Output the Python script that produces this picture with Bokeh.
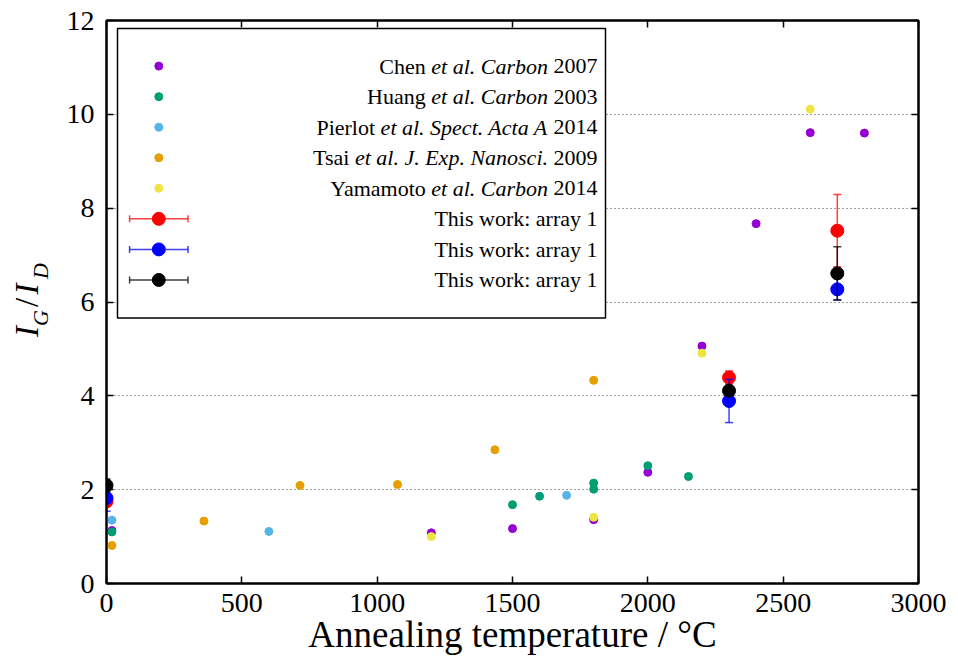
import math
from bokeh.plotting import figure
from bokeh.layouts import row
from bokeh.models import ColumnDataSource, LinearAxis, SingleIntervalTicker, Range1d
from bokeh.core.properties import value
from bokeh.embed import file_html
from bokeh.resources import INLINE

# ---- literature data: annealing temperature (°C) vs I_G/I_D ----
chen_T = [20, 1200, 1500, 1800, 2000, 2200, 2400, 2600, 2800]
chen_R = [1.13, 1.08, 1.17, 1.36, 2.37, 5.06, 7.67, 9.61, 9.60]
huang_T = [20, 1500, 1600, 1800, 1800, 2000, 2150]
huang_R = [1.10, 1.68, 1.86, 2.01, 2.14, 2.51, 2.28]
pierlot_T = [20, 600, 1700]
pierlot_R = [1.35, 1.11, 1.88]
tsai_T = [20, 360, 715, 1075, 1435, 1800]
tsai_R = [0.81, 1.33, 2.09, 2.11, 2.85, 4.33]
yama_T = [1200, 1800, 2200, 2600]
yama_R = [1.00, 1.41, 4.91, 10.11]

# ---- this work: mean ratio and error ----
work_T = [0, 2300, 2700]
red_R = [1.75, 4.39, 7.52]
red_E = [0.10, 0.14, 0.77]
blue_R = [1.82, 3.89, 6.27]
blue_E = [0.28, 0.46, 0.23]
black_R = [2.09, 4.11, 6.61]
black_E = [0.14, 0.10, 0.57]

x_ticks_step = 500
y_ticks_step = 2
x_title = "Annealing temperature / °C"

lit_series = [
    ("#9400d3", chen_T, chen_R, [("r", "Chen"), ("i", "et al. Carbon"), ("r", "2007")]),
    ("#009e73", huang_T, huang_R, [("r", "Huang"), ("i", "et al. Carbon"), ("r", "2003")]),
    ("#56b4e9", pierlot_T, pierlot_R, [("r", "Pierlot"), ("i", "et al. Spect. Acta A"), ("r", "2014")]),
    ("#e69f00", tsai_T, tsai_R, [("r", "Tsai"), ("i", "et al. J. Exp. Nanosci."), ("r", "2009")]),
    ("#f0e442", yama_T, yama_R, [("r", "Yamamoto"), ("i", "et al. Carbon"), ("r", "2014")]),
]
work_series = [
    ("#ff0000", red_R, red_E, "This work: array 1"),
    ("#0000ff", blue_R, blue_E, "This work: array 1"),
    ("#000000", black_R, black_E, "This work: array 1"),
]

# ---- canvas geometry ----
W, H = 958, 657
LW = 62                       # strip on the left holding the y title
BL, BR, BT, BB = 106, 40, 20, 73
FW, FH = W - BL - BR, H - BT - BB
X0, X1, Y0, Y1 = 0, 3000, 0, 12
SERIF = "Liberation Serif"


def dx(px):
    return X0 + (px - BL) * (X1 - X0) / FW


def dy(py):
    return Y0 + (BT + FH - py) * (Y1 - Y0) / FH


# Times-compatible advance widths (1/1000 em) for legend text layout
ROMAN = dict(zip(" .:0123456789", [250, 250, 278] + [500] * 10))
ROMAN.update(dict(a=444, b=500, c=444, d=500, e=444, f=333, g=500, h=500, i=278, j=278,
                  k=500, l=278, m=778, n=500, o=500, p=500, q=500, r=333, s=389, t=278,
                  u=500, v=500, w=722, x=500, y=500, z=444, A=722, C=667, H=722, P=556,
                  T=611, Y=722))
ITALIC = {" ": 250, ".": 250}
ITALIC.update(dict(a=500, b=500, c=444, d=500, e=444, i=278, l=278, n=500, o=500, p=500,
                   r=389, s=389, t=278, x=444, A=611, C=667, E=611, J=444, N=667, S=500))


def text_width(s, table, size):
    return sum(table.get(ch, 500) for ch in s) * size / 1000.0


p = figure(width=W - LW, height=H, x_range=Range1d(X0, X1), y_range=Range1d(Y0, Y1),
           output_backend="svg", toolbar_location=None,
           min_border_left=BL - LW, min_border_right=BR, min_border_top=BT, min_border_bottom=BB)
p.background_fill_color = "white"
p.border_fill_color = "white"
p.outline_line_color = "black"
p.outline_line_width = 2

# axes
for ax, step in ((p.xaxis[0], x_ticks_step), (p.yaxis[0], y_ticks_step)):
    ax.ticker = SingleIntervalTicker(interval=step, num_minor_ticks=0)
    ax.major_tick_in = 7
    ax.major_tick_out = 0
    ax.minor_tick_in = 0
    ax.minor_tick_out = 0
    ax.axis_line_width = 2
    ax.major_tick_line_width = 1.5
    ax.major_label_text_font = SERIF
    ax.major_label_text_font_size = "28px"
    ax.major_label_text_color = "black"
p.xaxis.major_label_standoff = 10
p.yaxis.major_label_standoff = 12
p.xaxis.axis_label = x_title
p.xaxis.axis_label_text_font = SERIF
p.xaxis.axis_label_text_font_size = "37px"
p.xaxis.axis_label_text_font_style = "normal"
p.xaxis.axis_label_text_color = "black"
p.xaxis.axis_label_standoff = -1

for side, step in (("above", x_ticks_step), ("right", y_ticks_step)):
    extra = LinearAxis(ticker=SingleIntervalTicker(interval=step, num_minor_ticks=0),
                       major_tick_in=7, major_tick_out=0, minor_tick_in=0, minor_tick_out=0,
                       axis_line_width=2, major_tick_line_width=1.5,
                       major_label_text_color=None, major_label_text_font_size="1px",
                       major_label_standoff=0)
    p.add_layout(extra, side)

p.xgrid.visible = False
p.ygrid.ticker = SingleIntervalTicker(interval=y_ticks_step, num_minor_ticks=0)
p.ygrid.grid_line_color = "#444444"
p.ygrid.grid_line_dash = "1 3"
p.ygrid.grid_line_width = 1

# ---- literature points ----
SMALL, LARGE = 8, 13
for color, T, R, _ in lit_series:
    p.scatter(T, R, size=SMALL, fill_color=color, line_color=color)

# ---- this work: error bars then markers ----
cap = 4 * (X1 - X0) / FW
for color, R, E, _ in work_series:
    lo = [r - e for r, e in zip(R, E)]
    hi = [r + e for r, e in zip(R, E)]
    p.segment(work_T, lo, work_T, hi, line_color=color, line_width=1.5, line_alpha=0.75)
    p.segment([t - cap for t in work_T], lo, [t + cap for t in work_T], lo,
              line_color=color, line_width=1.5, line_alpha=0.75)
    p.segment([t - cap for t in work_T], hi, [t + cap for t in work_T], hi,
              line_color=color, line_width=1.5, line_alpha=0.75)
    p.scatter(work_T, R, size=LARGE, fill_color=color, line_color=color)

# ---- legend box ----
p.quad(left=[dx(117)], right=[dx(605)], top=[dy(28)], bottom=[dy(318)],
       fill_color="white", line_color="black", line_width=1.5)

ROW0, ROW_STEP = 65.7, 30.6
MARK_X = 158.3
TEXT_R = 597
LEG_SIZE = 22

roman_src = dict(x=[], y=[], text=[])
italic_src = dict(x=[], y=[], text=[])
k = 0
for color, _, _, pieces in lit_series:
    yy = dy(ROW0 + k * ROW_STEP)
    p.scatter([dx(MARK_X)], [yy], size=SMALL, fill_color=color, line_color=color)
    right = TEXT_R
    for kind, s in reversed(pieces):
        target = roman_src if kind == "r" else italic_src
        target["x"].append(dx(right))
        target["y"].append(yy)
        target["text"].append(s)
        right -= text_width(s, ROMAN if kind == "r" else ITALIC, LEG_SIZE)
        right -= text_width(" ", ROMAN, LEG_SIZE)
    k += 1

half = 29.2
for color, _, _, label in work_series:
    cy = ROW0 + k * ROW_STEP
    yy = dy(cy)
    p.segment([dx(MARK_X - half)], [yy], [dx(MARK_X + half)], [yy],
              line_color=color, line_width=1.5, line_alpha=0.75)
    for sx in (MARK_X - half, MARK_X + half):
        p.segment([dx(sx)], [dy(cy - 3.5)], [dx(sx)], [dy(cy + 3.5)],
                  line_color=color, line_width=1.5, line_alpha=0.75)
    p.scatter([dx(MARK_X)], [yy], size=LARGE, fill_color=color, line_color=color)
    roman_src["x"].append(dx(TEXT_R))
    roman_src["y"].append(yy)
    roman_src["text"].append(label)
    k += 1

for src, style in ((roman_src, "normal"), (italic_src, "italic")):
    p.text(x="x", y="y", text="text", source=ColumnDataSource(src),
           text_font=value(SERIF), text_font_size=value(f"{LEG_SIZE}px"),
           text_font_style=style, text_align="right", text_baseline="middle",
           text_color="black")

# ---- y title strip: shares the y range so its frame lines up with the plot ----
lab = figure(width=LW, height=H, x_range=Range1d(0, LW), y_range=p.y_range,
             output_backend="svg", toolbar_location=None,
             x_axis_location=None, y_axis_location=None,
             min_border_left=0, min_border_right=0, min_border_top=BT, min_border_bottom=BB)
lab.outline_line_color = None
lab.background_fill_color = "white"
lab.border_fill_color = "white"
lab.xgrid.visible = False
lab.ygrid.visible = False

# glyph pieces of I_G / I_D, each centred on (x, y) given in pixels from the top-left
ylabel_parts = [
    ("I", "italic", 33, 26.5, 331.5),
    ("G", "italic", 22, 39.5, 318.0),
    ("/", "normal", 33, 26.5, 302.5),
    ("I", "italic", 33, 26.5, 289.0),
    ("D", "italic", 22, 39.5, 271.0),
]
for s, style, size, cx, cy in ylabel_parts:
    lab.text(x=[cx], y=[dy(cy)], text=[s], angle=math.pi / 2,
             text_font=value(SERIF), text_font_style=style, text_font_size=value(f"{size}px"),
             text_align="center", text_baseline="middle", text_color="black")

layout = row(lab, p, spacing=0)
open("out.html", "w").write(file_html(layout, INLINE))
